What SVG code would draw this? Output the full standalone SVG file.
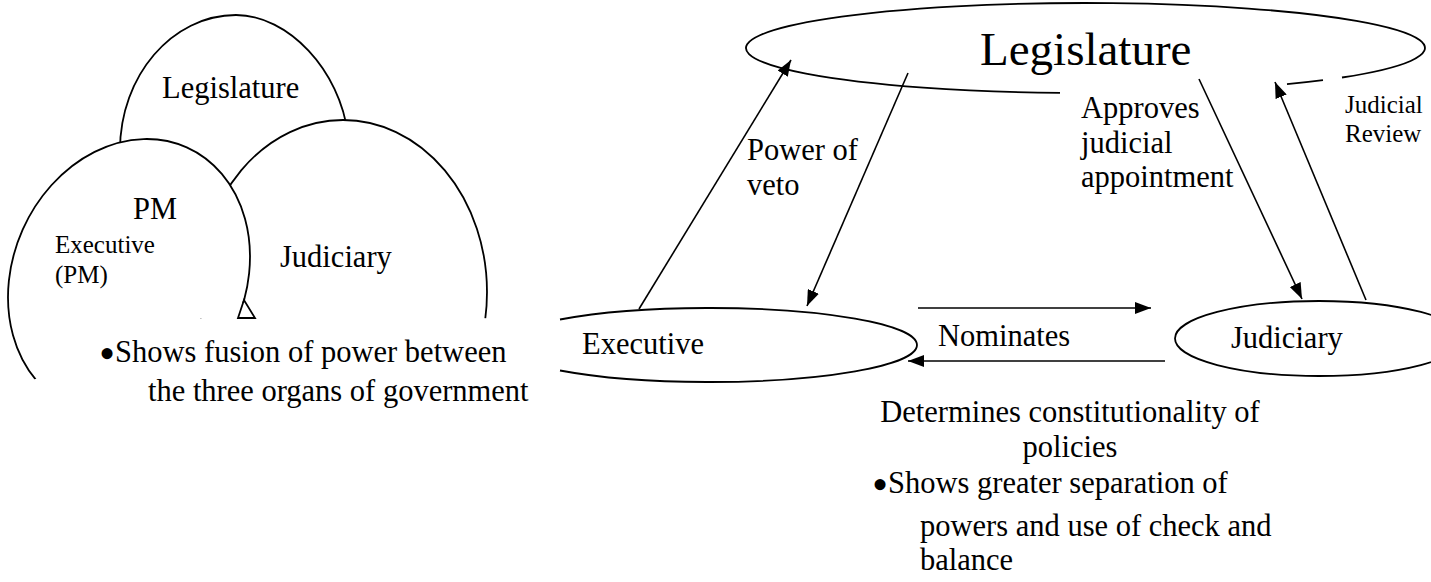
<svg xmlns="http://www.w3.org/2000/svg" width="1431" height="582" viewBox="0 0 1431 582">
<style>
.ln{fill:none;stroke:#000;stroke-width:1.8}
.wf{fill:#fff;stroke:#000;stroke-width:1.8}
.ar{fill:none;stroke:#000;stroke-width:1.6;marker-end:url(#ah)}
text{font-family:"Liberation Serif","Times New Roman",serif;fill:#000}
.t{font-size:30.5px}
.s{font-size:25px}
.big{font-size:47px}
.bul{font-size:46px}
</style>
<defs>
<marker id="ah" markerUnits="userSpaceOnUse" markerWidth="16" markerHeight="12" viewBox="0 0 16 12" refX="16" refY="6" orient="auto">
<path d="M0,0 L16,6 L0,12 z" fill="#000"/>
</marker>
<clipPath id="vennclip">
<polygon points="0,0 540,0 540,318.5 490,318.5 246,302 30,381 0,381"/>
</clipPath>
</defs>
<rect width="1431" height="582" fill="#fff"/>

<!-- Left: fusion of powers Venn -->
<g id="venn" clip-path="url(#vennclip)">
<g id="venn-legislature">
<path class="ln" d="M120 150 C120 76 172 15 236 15 C288 15 340 70 348 135"/>
</g>
<g id="venn-judiciary">
<ellipse class="wf" cx="343" cy="292" rx="144" ry="172"/>
</g>
<g id="venn-executive">
<ellipse class="wf" cx="129" cy="277" rx="116.4" ry="141.9" transform="rotate(24 129 277)"/>
</g>
</g>
<polygon class="ln" points="244,300 238,318 255,318"/>
<text class="t" x="162" y="98">Legislature</text>
<text class="t" x="133" y="219">PM</text>
<text class="s" x="55" y="253">Executive</text>
<text class="s" x="55" y="283">(PM)</text>
<text class="t" x="280" y="267">Judiciary</text>
<text class="t" x="99" y="362"><tspan class="bul" dy="7">•</tspan><tspan dy="-7">Shows fusion of power between</tspan></text>
<text class="t" x="148" y="401">the three organs of government</text>

<!-- Right: separation of powers -->
<g id="legislature">
<path class="ln" d="M1060 92.9 A339.5 45 0 1 1 1342 77.5"/>
<path class="ln" d="M1287 84.2 A339.5 45 0 0 0 1323 80.2"/>
<text class="big" x="980" y="65">Legislature</text>
</g>
<g id="executive">
<path class="ln" d="M560 319.5 A207 37 0 1 1 560 370.5"/>
<text class="t" x="582" y="354">Executive</text>
</g>
<g id="judiciary">
<ellipse class="ln" cx="1319" cy="338.5" rx="144" ry="37.5"/>
<text class="t" x="1231" y="348">Judiciary</text>
</g>
<g id="connectors">
<line class="ar" x1="639" y1="309" x2="791" y2="60"/>
<line class="ar" x1="908" y1="73" x2="807" y2="306"/>
<line class="ar" x1="1199" y1="79" x2="1302" y2="299"/>
<line class="ar" x1="1366" y1="300" x2="1275" y2="82"/>
<line class="ar" x1="918" y1="308" x2="1151" y2="308"/>
<line class="ar" x1="1165" y1="361" x2="908" y2="361"/>
</g>
<g id="labels">
<text class="t" x="747" y="160">Power of</text>
<text class="t" x="747" y="195">veto</text>
<text class="t" x="1081" y="118">Approves</text>
<text class="t" x="1081" y="153">judicial</text>
<text class="t" x="1081" y="187">appointment</text>
<text class="s" x="1345" y="113">Judicial</text>
<text class="s" x="1345" y="142">Review</text>
<text class="t" x="938" y="346">Nominates</text>
<text class="t" x="1070" y="422" text-anchor="middle">Determines constitutionality of</text>
<text class="t" x="1070" y="457" text-anchor="middle">policies</text>
<text class="t" x="872" y="493"><tspan class="bul" dy="7">•</tspan><tspan dy="-7">Shows greater separation of</tspan></text>
<text class="t" x="920" y="536">powers and use of check and</text>
<text class="t" x="920" y="570">balance</text>
</g>
</svg>
